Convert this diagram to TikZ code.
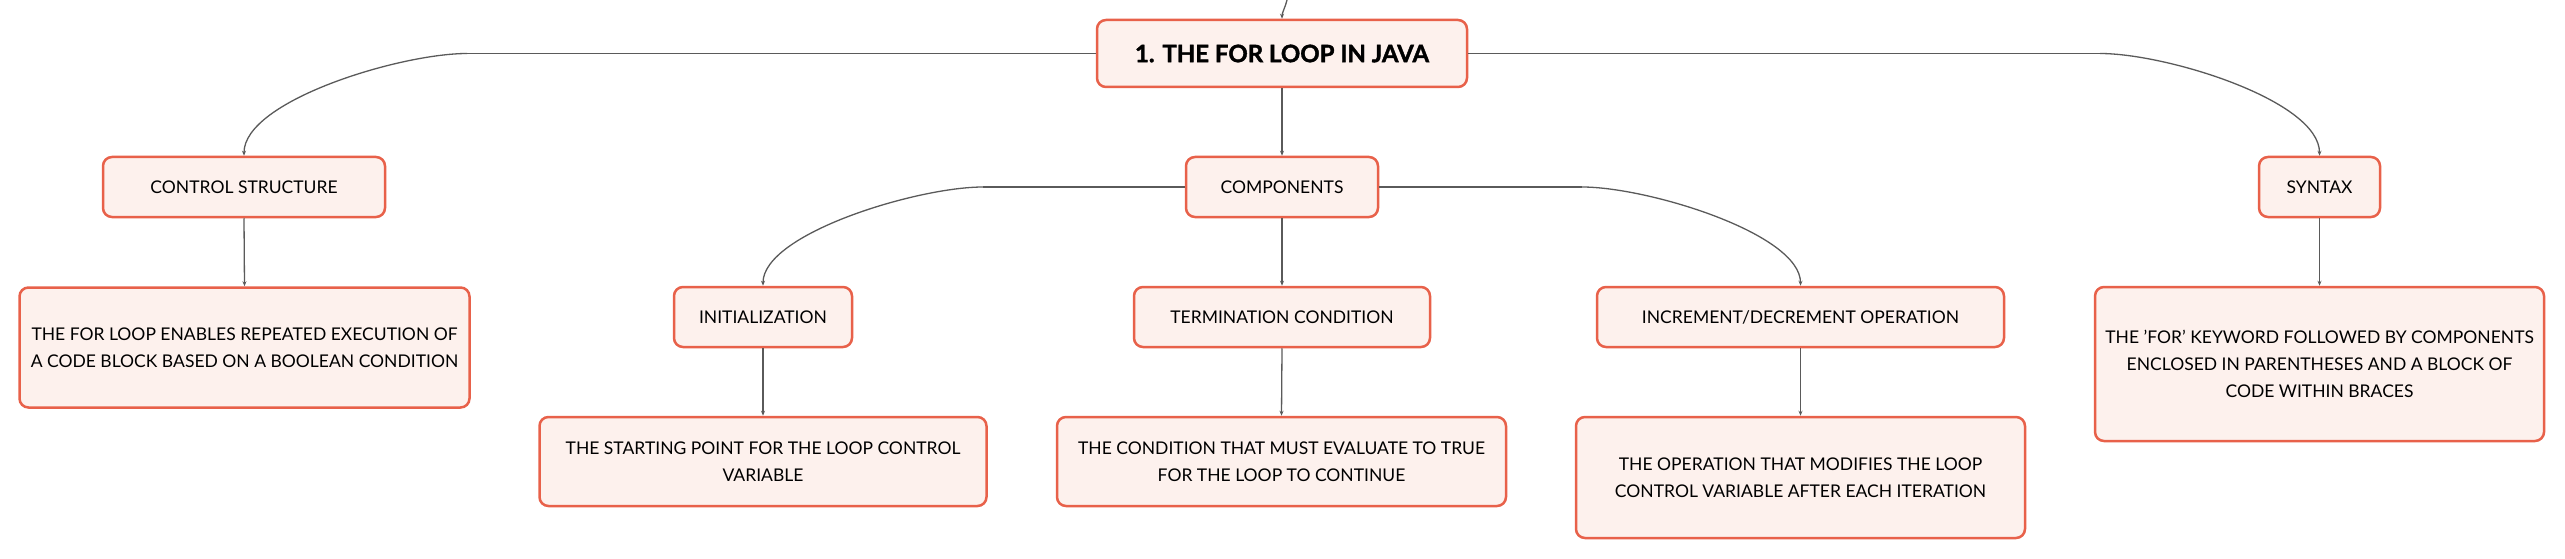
\documentclass[tikz,border=0pt]{standalone}
\usepackage{fontspec}
\setmainfont{Lato}
\newfontfamily\rootfont{Lato}[BoldFeatures={FakeBold=1.6}]
\usetikzlibrary{arrows.meta}
\definecolor{boxborder}{HTML}{E8614A}
\definecolor{boxfill}{HTML}{FDF1ED}
\definecolor{linkgray}{HTML}{5A5A5A}
\tikzset{
  box/.style={draw=boxborder, fill=boxfill, line width=2.5pt, rounded corners=9pt,
    inner sep=0pt, align=center, font=\fontsize{17.5}{27}\selectfont, text=black},
  rootbox/.style={box, font=\rootfont\fontsize{24}{30}\selectfont\bfseries},
  link/.style={draw=linkgray, line width=1.3pt, -{Stealth[length=5pt,width=4pt]}},
  flatlink/.style={draw=linkgray, line width=1.3pt}
}
\begin{document}
\begin{tikzpicture}[x=1pt,y=-1pt]
\useasboundingbox (0,0) rectangle (2565,559);
% nodes
\node[rootbox, minimum width=370pt, minimum height=67pt] (root) at (1282,53.5) {1. THE FOR LOOP IN JAVA};
\node[box, minimum width=282pt, minimum height=60pt] (ctrl) at (244,187) {CONTROL STRUCTURE};
\node[box, minimum width=450pt, minimum height=120pt] (ctrldesc) at (244.5,347.5) {THE FOR LOOP ENABLES REPEATED EXECUTION OF\\A CODE BLOCK BASED ON A BOOLEAN CONDITION};
\node[box, minimum width=192pt, minimum height=60pt] (comp) at (1282,187) {COMPONENTS};
\node[box, minimum width=121pt, minimum height=60pt] (syntax) at (2319.5,187) {SYNTAX};
\node[box, minimum width=449pt, minimum height=154pt] (syntaxdesc) at (2319.5,364) {THE 'FOR' KEYWORD FOLLOWED BY COMPONENTS\\ENCLOSED IN PARENTHESES AND A BLOCK OF\\CODE WITHIN BRACES};
\node[box, minimum width=178pt, minimum height=60pt] (init) at (763,317) {INITIALIZATION};
\node[box, minimum width=447pt, minimum height=89pt] (initdesc) at (763,461.5) {THE STARTING POINT FOR THE LOOP CONTROL\\VARIABLE};
\node[box, minimum width=296pt, minimum height=60pt] (term) at (1282,317) {TERMINATION CONDITION};
\node[box, minimum width=449pt, minimum height=89pt] (termdesc) at (1281.5,461.5) {THE CONDITION THAT MUST EVALUATE TO TRUE\\FOR THE LOOP TO CONTINUE};
\node[box, minimum width=407pt, minimum height=60pt] (incr) at (1800.5,317) {INCREMENT/DECREMENT OPERATION};
\node[box, minimum width=449pt, minimum height=121pt] (incrdesc) at (1800.5,477.5) {THE OPERATION THAT MODIFIES THE LOOP\\CONTROL VARIABLE AFTER EACH ITERATION};
% bend points
\coordinate (topin) at (1287,0);
\coordinate (bl) at (467,53.5);
\coordinate (br) at (2100,53.5);
\coordinate (cl) at (983,187);
\coordinate (cr) at (1582,187);
% connectors
\draw[link] (topin) .. controls +(-2,8) and +(0,-6) .. (root.north);
\draw[flatlink] (root.west) -- (bl);
\draw[link] (bl) .. controls +(-67,0) and +(0,-55) .. (ctrl.north);
\draw[flatlink] (root.east) -- (br);
\draw[link] (br) .. controls +(67,0) and +(0,-55) .. (syntax.north);
\draw[link] (root.south) -- (comp.north);
\draw[flatlink] (comp.west) -- (cl);
\draw[link] (cl) .. controls +(-66,0) and +(0,-52) .. (init.north);
\draw[flatlink] (comp.east) -- (cr);
\draw[link] (cr) .. controls +(66,0) and +(0,-52) .. (incr.north);
\draw[link] (comp.south) -- (term.north);
\draw[link] (ctrl.south) -- (ctrldesc.north);
\draw[link] (syntax.south) -- (syntaxdesc.north);
\draw[link] (init.south) -- (initdesc.north);
\draw[link] (term.south) -- (termdesc.north);
\draw[link] (incr.south) -- (incrdesc.north);
\end{tikzpicture}
\end{document}
